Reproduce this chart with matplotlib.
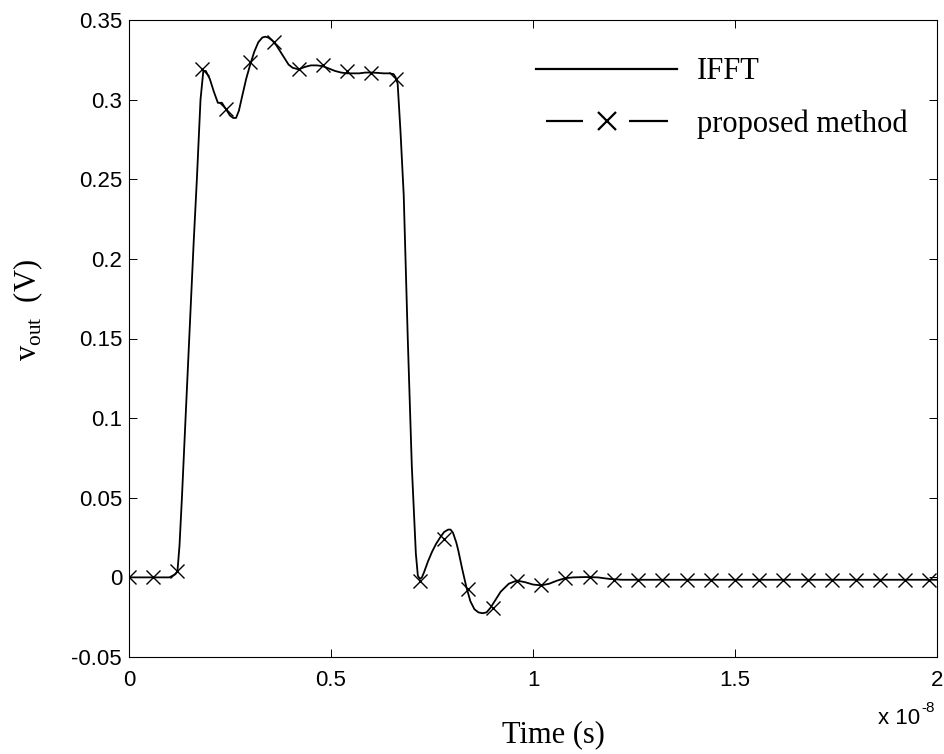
import matplotlib
matplotlib.use("Agg")
import matplotlib.pyplot as plt
from matplotlib.lines import Line2D
from matplotlib.ticker import FuncFormatter, MultipleLocator

# IFFT reference waveform (time in ns, voltage in V)
t_ifft = [0, 1.0, 1.15, 1.2, 1.25, 1.31, 1.4, 1.5, 1.6, 1.68, 1.77, 1.84, 1.9,
          2.0, 2.1, 2.2, 2.3, 2.4, 2.5, 2.58, 2.65, 2.72, 2.8, 2.9, 3.0, 3.1,
          3.2, 3.3, 3.37, 3.45, 3.55, 3.65, 3.75, 3.85, 3.95, 4.05, 4.2, 4.35,
          4.5, 4.65, 4.8, 4.95, 5.1, 5.25, 5.4, 5.55, 5.7, 5.85, 6.0, 6.15,
          6.3, 6.45, 6.55, 6.6, 6.65, 6.72, 6.8, 6.9, 7.0, 7.1, 7.15, 7.2,
          7.25, 7.3, 7.4, 7.5, 7.6, 7.7, 7.8, 7.9, 7.96, 8.02, 8.1, 8.15,
          8.25, 8.35, 8.45, 8.55, 8.65, 8.75, 8.85, 8.95, 9.05, 9.2, 9.4,
          9.6, 9.8, 10.0, 10.2, 10.4, 10.6, 10.8, 11.0, 11.3, 11.6, 11.9,
          12.2, 13, 14, 15, 16, 17, 18, 19, 20]
v_ifft = [0, 0.0, 0.002, 0.004, 0.02, 0.05, 0.10, 0.155, 0.21, 0.25, 0.30,
          0.318, 0.318, 0.313, 0.305, 0.298, 0.298, 0.294, 0.290, 0.2885,
          0.2885, 0.293, 0.302, 0.313, 0.322, 0.330, 0.336, 0.339, 0.3395,
          0.339, 0.337, 0.334, 0.330, 0.326, 0.322, 0.320, 0.319, 0.3205,
          0.3215, 0.3215, 0.321, 0.3195, 0.318, 0.317, 0.3165, 0.3165,
          0.3165, 0.317, 0.317, 0.3168, 0.3165, 0.3165, 0.316, 0.314, 0.31,
          0.28, 0.24, 0.15, 0.07, 0.015, 0.001, -0.001, 0.0, 0.003, 0.01,
          0.016, 0.021, 0.025, 0.0285, 0.030, 0.030, 0.028, 0.022, 0.017,
          0.005, -0.006, -0.015, -0.020, -0.022, -0.0225, -0.022, -0.019,
          -0.015, -0.009, -0.004, -0.002, -0.003, -0.0045, -0.005, -0.004,
          -0.002, -0.0005, 0.0, 0.0002, 0.0, -0.001, -0.0015, -0.0015,
          -0.0015, -0.0015, -0.0015, -0.0015, -0.0015, -0.0015, -0.0015]

# proposed method samples (time in ns, voltage in V)
t_prop = [0, 0.6, 1.2, 1.8, 2.4, 3.0, 3.6, 4.2, 4.8, 5.4, 6.0, 6.6, 7.2, 7.8,
          8.4, 9.0, 9.6, 10.2, 10.8, 11.4, 12.0, 12.6, 13.2, 13.8, 14.4,
          15.0, 15.6, 16.2, 16.8, 17.4, 18.0, 18.6, 19.2, 19.8]
v_prop = [0, 0, 0.004, 0.319, 0.294, 0.3235, 0.336, 0.3195, 0.322, 0.318,
          0.317, 0.313, -0.002, 0.024, -0.007, -0.019, -0.002, -0.005,
          -0.0005, 0.0, -0.0015, -0.0015, -0.0015, -0.0015, -0.0015,
          -0.0015, -0.0015, -0.0015, -0.0015, -0.0015, -0.0015, -0.0015,
          -0.0015, -0.0015]

plt.rcParams['axes.unicode_minus'] = False
plt.rcParams['mathtext.fontset'] = 'custom'
plt.rcParams['mathtext.rm'] = 'Liberation Serif'
plt.rcParams['lines.scale_dashes'] = False

SERIF = 'Liberation Serif'
SANS = 'Liberation Sans'

fig = plt.figure(figsize=(9.44, 7.54), dpi=100)
ax = fig.add_axes([129 / 944, 1 - 657 / 754, 808 / 944, 637 / 754])

ax.plot([t * 1e-9 for t in t_ifft], v_ifft, color='black', lw=1.3)
ax.plot([t * 1e-9 for t in t_prop], v_prop, linestyle='none', marker='x',
        color='black', markersize=9.5, markeredgewidth=1.0)

ax.set_xlim(0, 2e-8)
ax.set_ylim(-0.05, 0.35)
ax.xaxis.set_major_locator(MultipleLocator(0.5e-8))
ax.yaxis.set_major_locator(MultipleLocator(0.05))
ax.xaxis.set_major_formatter(FuncFormatter(lambda v, p: f'{v / 1e-8:g}'))
ax.yaxis.set_major_formatter(FuncFormatter(lambda v, p: f'{round(v, 3):g}'))
ax.tick_params(direction='in', top=True, right=True, length=6, width=0.7,
               labelsize=16)
ax.tick_params(axis='x', pad=9)
ax.tick_params(axis='y', pad=5)
for lab in ax.get_xticklabels() + ax.get_yticklabels():
    lab.set_fontfamily(SANS)
for sp in ax.spines.values():
    sp.set_linewidth(0.8)

ax.set_xlabel('Time (s)', fontsize=22, family=SERIF, va='center')
ax.xaxis.set_label_coords(0.525, -0.1225)
ax.set_ylabel(r'v$_{\mathrm{out}}$  (V)', fontsize=22, family=SERIF, va='center')
ax.yaxis.set_label_coords(-0.125, 0.545)

# MATLAB style exponent under the right end of the x axis
fig.text(920 / 944, 1 - 718 / 754, 'x 10', ha='right', va='center',
         fontsize=16, family=SANS)
fig.text(921 / 944, 1 - 708 / 754, '-8', ha='left', va='center',
         fontsize=11, family=SANS)

# legend: the second handle has a gap around the marker
px = 72 / 100
h_ifft = Line2D([], [], color='black', lw=1.6)
h_prop = Line2D([], [], color='black', lw=1.6, marker='x', markersize=13,
                markeredgewidth=1.6,
                linestyle=(132 * px, (37 * px, 46 * px, 39 * px, 20 * px)))
ax.legend([h_ifft, h_prop], ['IFFT', 'proposed method'], loc='upper left',
          bbox_to_anchor=(521 / 944, 1 - 42 / 754),
          bbox_transform=fig.transFigure, frameon=False, borderpad=0,
          handlelength=4.6, handletextpad=0.65, labelspacing=0.76,
          numpoints=1, prop={'family': SERIF, 'size': 22})

fig.savefig('out.png', dpi=100)
